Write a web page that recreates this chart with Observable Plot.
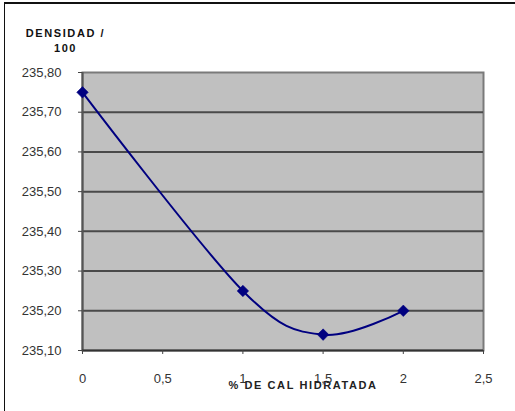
<!DOCTYPE html>
<html>
<head>
<meta charset="utf-8">
<script src="https://cdn.jsdelivr.net/npm/d3@7"></script>
<script src="https://cdn.jsdelivr.net/npm/@observablehq/plot@0.6"></script>
<style>
  html, body { margin: 0; padding: 0; background: #fff; }
  #wrap { position: relative; width: 515px; height: 411px; overflow: hidden; }
  #frameline { position: absolute; left: 4px; top: 2px; width: 520px; height: 420px;
               border-top: 2px solid #111; border-left: 1.5px solid #111; pointer-events: none; }
  g[font-weight="bold"] text { letter-spacing: 1.6px; }
</style>
</head>
<body>
<div id="wrap"><div id="frameline"></div></div>
<script>
const cal = [0, 1, 1.5, 2];
const densidad = [235.75, 235.25, 235.14, 235.20];
const xTicks = [0, 0.5, 1, 1.5, 2, 2.5];
const yTicks = [235.10, 235.20, 235.30, 235.40, 235.50, 235.60, 235.70, 235.80];
const yTitle = "DENSIDAD /\n100";
const xTitle = "% DE CAL HIDRATADA";

const data = cal.map((c, i) => ({x: c, y: densidad[i]}));
const comma = (f) => (d) => f(d).replace(".", ",");

const chart = Plot.plot({
  width: 515,
  height: 411,
  marginLeft: 82,
  marginRight: 32,
  marginTop: 72,
  marginBottom: 61,
  style: {fontFamily: "'Liberation Sans', Arial, sans-serif", fontSize: "13px", color: "#333", background: "transparent"},
  x: {domain: [0, 2.5]},
  y: {domain: [235.10, 235.80]},
  marks: [
    Plot.frame({fill: "#C0C0C0", stroke: "#7a7a7a", strokeWidth: 2}),
    Plot.ruleY(yTicks.slice(1, -1), {stroke: "#4a4a4a", strokeWidth: 2}),
    Plot.ruleX([0], {stroke: "#555", strokeWidth: 2}),
    Plot.ruleY([235.10], {stroke: "#333", strokeWidth: 2}),
    Plot.axisY({ticks: yTicks, tickSize: 4, tickPadding: 17, tickFormat: comma(d3.format(".2f")), label: null, fontSize: 13, stroke: "#444"}),
    Plot.axisX({ticks: xTicks, tickSize: 4, tickPadding: 19, tickFormat: comma(d3.format("")), label: null, fontSize: 13, stroke: "#444"}),
    Plot.line(data, {x: "x", y: "y", curve: "cardinal", stroke: "#000080", strokeWidth: 2}),
    Plot.dot(data, {x: "x", y: "y", symbol: "square", r: 4.6, rotate: 45, fill: "#000080", stroke: "#000080", strokeWidth: 0.5}),
    Plot.text([yTitle], {frameAnchor: "top-left", dx: -17, dy: -32.5, text: d => d, textAnchor: "middle", lineAnchor: "middle", lineHeight: 1.36, fontSize: 11, fontWeight: "bold", fill: "#111"}),
    Plot.text([xTitle], {frameAnchor: "bottom", dx: 20, dy: 35, text: d => d, textAnchor: "middle", lineAnchor: "middle", fontSize: 11, fontWeight: "bold", fill: "#222"})
  ]
});
document.getElementById("wrap").prepend(chart);
</script>
</body>
</html>
